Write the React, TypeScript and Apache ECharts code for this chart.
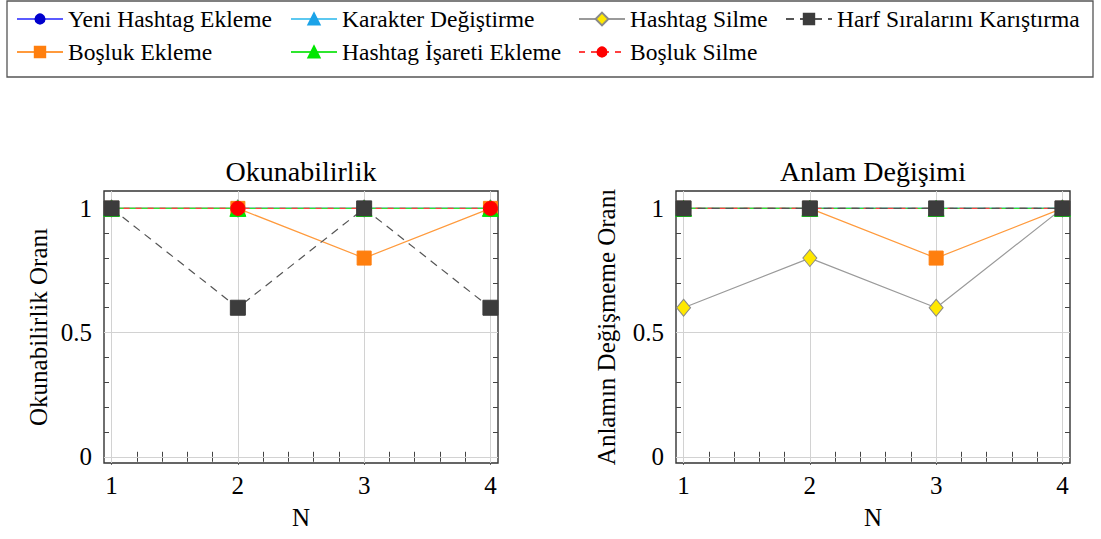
import React, { useEffect, useRef } from "react";
import * as echarts from "echarts";

// ---------- data ----------
const xValues = [1, 2, 3, 4];
const xMajorTicks = [1, 2, 3, 4];
const xMinorTicks = [1.2, 1.4, 1.6, 1.8, 2.2, 2.4, 2.6, 2.8, 3.2, 3.4, 3.6, 3.8];
const yMajorTicks = [0, 0.5, 1];
const yMinorTicks = [0.1, 0.2, 0.3, 0.4, 0.6, 0.7, 0.8, 0.9];

const chartTitles = ["Okunabilirlik", "Anlam Değişimi"];
const yAxisNames = ["Okunabilirlik Oranı", "Anlamın Değişmeme Oranı"];
const xAxisName = "N";

const seriesNames = [
  "Yeni Hashtag Ekleme",
  "Karakter Değiştirme",
  "Hashtag Silme",
  "Harf Sıralarını Karıştırma",
  "Boşluk Ekleme",
  "Hashtag İşareti Ekleme",
  "Boşluk Silme",
];

// Okunabilirlik
const okuYeni = [1, 1, 1, 1];
const okuKarakter = [1, 1, 1, 1];
const okuHashtagSilme = [1, 1, 1, 1];
const okuHarf = [1, 0.6, 1, 0.6];
const okuBoslukEkleme = [1, 1, 0.8, 1];
const okuHashtagIsareti = [1, 1, 1, 1];
const okuBoslukSilme = [1, 1, 1, 1];

// Anlam Değişimi
const anlamYeni = [1, 1, 1, 1];
const anlamKarakter = [1, 1, 1, 1];
const anlamHashtagSilme = [0.6, 0.8, 0.6, 1];
const anlamHarf = [1, 1, 1, 1];
const anlamBoslukEkleme = [1, 1, 0.8, 1];
const anlamHashtagIsareti = [1, 1, 1, 1];
const anlamBoslukSilme = [1, 1, 1, 1];

const okuData: Record<string, number[]> = {
  "Yeni Hashtag Ekleme": okuYeni,
  "Karakter Değiştirme": okuKarakter,
  "Hashtag Silme": okuHashtagSilme,
  "Harf Sıralarını Karıştırma": okuHarf,
  "Boşluk Ekleme": okuBoslukEkleme,
  "Hashtag İşareti Ekleme": okuHashtagIsareti,
  "Boşluk Silme": okuBoslukSilme,
};
const anlamData: Record<string, number[]> = {
  "Yeni Hashtag Ekleme": anlamYeni,
  "Karakter Değiştirme": anlamKarakter,
  "Hashtag Silme": anlamHashtagSilme,
  "Harf Sıralarını Karıştırma": anlamHarf,
  "Boşluk Ekleme": anlamBoslukEkleme,
  "Hashtag İşareti Ekleme": anlamHashtagIsareti,
  "Boşluk Silme": anlamBoslukSilme,
};

// ---------- styles ----------
const FONT = "'Liberation Serif', 'Times New Roman', serif";

const styles: Record<string, any> = {
  "Yeni Hashtag Ekleme": { line: "#5b5bff", fill: "#0000cd", border: "#0000cd", symbol: "circle", size: 14, dash: "solid", legendH: 11.5 },
  "Karakter Değiştirme": { line: "#5cc8f0", fill: "#1ca3e8", border: "#1ca3e8", symbol: "triangle", size: 15, dash: "solid", legendH: 14 },
  "Hashtag Silme": { line: "#9a9a9a", fill: "#ffe800", border: "#8a8a8a", symbol: "diamond", size: [14, 17], dash: "solid", legendH: 16 },
  "Harf Sıralarını Karıştırma": { line: "#555555", fill: "#3c3c3c", border: "#3c3c3c", symbol: "rect", size: 15, dash: [8, 6], legendH: 13 },
  "Boşluk Ekleme": { line: "#ff9a3c", fill: "#ff7f0e", border: "#ff7f0e", symbol: "rect", size: 14, dash: "solid", legendH: 13 },
  "Hashtag İşareti Ekleme": { line: "#2ee62e", fill: "#00e600", border: "#00e600", symbol: "triangle", size: 16, dash: "solid", legendH: 14 },
  "Boşluk Silme": { line: "#ff4040", fill: "#ff0000", border: "#ff0000", symbol: "circle", size: 14, dash: [6, 6], legendH: 11.5 },
};

// drawing order (bottom -> top)
const drawOrder = [
  "Yeni Hashtag Ekleme",
  "Karakter Değiştirme",
  "Hashtag Silme",
  "Boşluk Ekleme",
  "Hashtag İşareti Ekleme",
  "Boşluk Silme",
  "Harf Sıralarını Karıştırma",
];

const legendPos: Record<string, [number, number]> = {
  "Yeni Hashtag Ekleme": [16, 7],
  "Karakter Değiştirme": [290, 7],
  "Hashtag Silme": [578, 7],
  "Harf Sıralarını Karıştırma": [785, 7],
  "Boşluk Ekleme": [16, 40],
  "Hashtag İşareti Ekleme": [290, 40],
  "Boşluk Silme": [578, 40],
};

const X_MIN = 0.94;
const X_MAX = 4.06;
const Y_MIN = -0.025;
const Y_MAX = 1.07;

const grids = [
  { left: 104, top: 191, width: 394, height: 272 },
  { left: 676, top: 191, width: 394, height: 272 },
];
const yNameGaps = [53, 57];

function makeXAxes(g: number) {
  const base = {
    type: "value",
    gridIndex: g,
    min: X_MIN,
    max: X_MAX,
    axisLine: { show: false },
    splitLine: { show: false },
    axisLabel: { show: false },
  };
  const tick = (vals: number[], len: number) => ({
    show: true,
    inside: true,
    length: len,
    customValues: vals,
    lineStyle: { color: "#444", width: 1 },
  });
  return [
    {
      ...base,
      position: "bottom",
      axisTick: tick(xMajorTicks, 8),
      axisLabel: {
        show: true,
        customValues: xMajorTicks,
        margin: 10,
        fontSize: 25,
        color: "#000",
        fontFamily: FONT,
      },
      name: xAxisName,
      nameLocation: "middle",
      nameGap: 42,
      nameTextStyle: { fontSize: 25, color: "#000", fontFamily: FONT },
    },
    { ...base, position: "bottom", axisTick: tick(xMinorTicks, 5) },
    { ...base, position: "top", axisTick: tick(xMajorTicks, 8) },
    { ...base, position: "top", axisTick: tick(xMinorTicks, 5) },
  ];
}

function makeYAxes(g: number) {
  const base = {
    type: "value",
    gridIndex: g,
    min: Y_MIN,
    max: Y_MAX,
    axisLine: { show: false },
    splitLine: { show: false },
    axisLabel: { show: false },
  };
  const tick = (vals: number[], len: number) => ({
    show: true,
    inside: true,
    length: len,
    customValues: vals,
    lineStyle: { color: "#444", width: 1 },
  });
  return [
    {
      ...base,
      position: "left",
      axisTick: tick(yMajorTicks, 8),
      axisLabel: {
        show: true,
        customValues: yMajorTicks,
        margin: 12,
        fontSize: 25,
        color: "#000",
        fontFamily: FONT,
      },
      name: yAxisNames[g],
      nameLocation: "middle",
      nameGap: yNameGaps[g],
      nameRotate: 90,
      nameTextStyle: { fontSize: 25, color: "#000", fontFamily: FONT },
    },
    { ...base, position: "left", axisTick: tick(yMinorTicks, 5) },
    { ...base, position: "right", axisTick: tick(yMajorTicks, 8) },
    { ...base, position: "right", axisTick: tick(yMinorTicks, 5) },
  ];
}

function makeSeries(g: number, data: Record<string, number[]>) {
  const out: any[] = [];
  out.push({
    type: "line",
    name: "__grid" + g,
    xAxisIndex: g * 4,
    yAxisIndex: g * 4,
    data: [],
    silent: true,
    z: 1,
    markLine: {
      silent: true,
      symbol: ["none", "none"],
      label: { show: false },
      lineStyle: { color: "#d2d2d2", width: 1, type: "solid" },
      data: [
        ...xMajorTicks.map((v) => ({ xAxis: v })),
        ...yMajorTicks.map((v) => ({ yAxis: v })),
      ],
    },
  });
  drawOrder.forEach((name, i) => {
    const s = styles[name];
    out.push({
      type: "line",
      name,
      xAxisIndex: g * 4,
      yAxisIndex: g * 4,
      data: xValues.map((x, k) => [x, data[name][k]]),
      symbol: s.symbol,
      symbolSize: s.size,
      showAllSymbol: true,
      z: 3 + i,
      lineStyle: { color: s.line, width: 1.2, type: s.dash },
      itemStyle: { color: s.fill, borderColor: s.border, borderWidth: 1 },
      emphasis: { disabled: true },
    });
  });
  return out;
}

export default function App() {
  const ref = useRef<HTMLDivElement>(null);
  useEffect(() => {
    if (!ref.current) return;
    const chart = echarts.init(ref.current, undefined, { renderer: "svg" });
    const option: any = {
      animation: false,
      backgroundColor: "#ffffff",
      title: chartTitles.map((t, g) => ({
        text: t,
        left: grids[g].left + grids[g].width / 2,
        top: 157,
        padding: 0,
        textAlign: "center",
        textStyle: { fontSize: 28, fontWeight: "normal", color: "#000", fontFamily: FONT },
      })),
      legend: seriesNames.map((n) => ({
        data: [n],
        left: legendPos[n][0],
        top: legendPos[n][1],
        padding: 0,
        itemWidth: 46,
        itemHeight: styles[n].legendH,
        selectedMode: false,
        textStyle: { fontSize: 23.5, color: "#000", fontFamily: FONT },
      })),
      grid: grids.map((gr) => ({
        ...gr,
        show: true,
        borderColor: "#333",
        borderWidth: 1.4,
        backgroundColor: "transparent",
        containLabel: false,
      })),
      xAxis: [...makeXAxes(0), ...makeXAxes(1)],
      yAxis: [...makeYAxes(0), ...makeYAxes(1)],
      series: [...makeSeries(0, okuData), ...makeSeries(1, anlamData)],
      graphic: [
        {
          type: "rect",
          shape: { x: 7, y: 1, width: 1086, height: 76 },
          style: { fill: "none", stroke: "#555", lineWidth: 1.3 },
          silent: true,
        },
      ],
    };
    chart.setOption(option);
    return () => chart.dispose();
  }, []);
  return (
    <div
      ref={ref}
      style={{ position: "fixed", left: 0, top: 0, width: 1101, height: 539, background: "#fff" }}
    />
  );
}
